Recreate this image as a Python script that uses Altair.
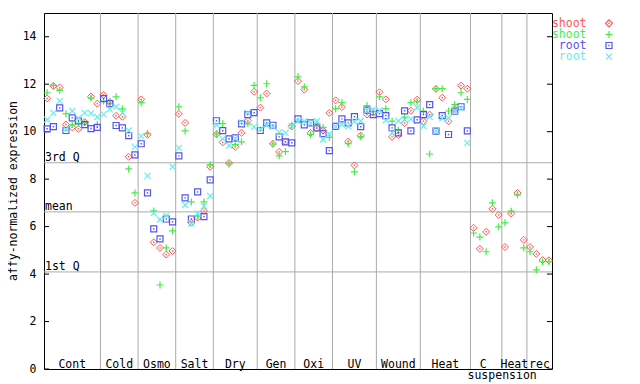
import altair as alt
import pandas as pd

FONT = "DejaVu Sans Mono"
FS = 11.5

groups = ["Cont", "Cold", "Osmo", "Salt", "Dry", "Gen", "Oxi", "UV", "Wound",
          "Heat", "C suspension", "Heat", "rec"]
group_sizes = [9, 6, 6, 6, 7, 6, 6, 7, 7, 8, 5, 4, 4]

shoot_red = [11.40, 11.93, 11.86, 10.30, 10.18, 10.12, 10.40, 11.48, 11.18,
             11.55, 11.25, 10.67, 10.63, 8.94, 7.00,
             11.36, 9.87, 5.34, 5.10, 4.82, 4.97,
             10.75, 10.37, 6.16, 6.38, 6.66, 8.52,
             9.89, 9.55, 8.68, 9.36, 9.95, 10.47, 11.68,
             11.01, 11.61, 9.49, 9.15, 9.58, 10.22,
             12.13, 11.77, 9.95, 10.14, 10.05, 10.79,
             11.32, 11.04, 9.58, 8.58, 9.83, 10.72, 10.80,
             11.66, 11.36, 9.78, 9.85, 10.36, 10.88, 11.35,
             10.44, 10.72, 11.80, 11.43, 10.44, 10.95, 11.94, 11.81,
             5.95, 5.06, 5.78, 6.75, 6.49,
             5.14, 6.55, 7.42, 5.44,
             5.14, 4.85, 4.59, 4.58]

shoot_green = [11.64, 11.95, 11.74, 10.76, 10.29, 10.35, 10.38, 11.41, 10.30,
               11.29, 11.20, 11.47, 10.96, 8.43, 7.42,
               11.22, 9.92, 6.66, 3.54, 5.10, 5.82,
               11.05, 10.03, 7.04, 6.44, 7.04, 8.61,
               9.91, 10.34, 8.64, 9.46, 9.57, 10.33, 11.95,
               11.43, 12.02, 9.48, 8.98, 9.16, 10.27,
               12.31, 11.89, 9.88, 10.35, 10.18, 9.76,
               10.97, 11.22, 9.50, 8.31, 9.79, 11.10, 10.85,
               11.47, 10.97, 10.44, 10.06, 10.61, 11.22, 11.27,
               10.87, 9.06, 11.81, 11.81, 10.87, 11.14, 11.64, 11.36,
               5.73, 5.56, 4.94, 7.00, 5.99,
               6.16, 6.65, 7.34, 5.10,
               4.94, 4.18, 4.52, 4.52]

root_blue = [10.12, 10.21, 11.00, 10.05, 10.58, 10.45, 10.30, 10.13, 10.18,
             11.39, 11.18, 10.26, 10.16, 9.83, 9.02,
             9.49, 7.42, 5.90, 5.48, 6.32, 6.20,
             8.98, 7.21, 6.32, 7.46, 6.42, 7.97,
             10.46, 10.04, 9.70, 9.74, 10.33, 10.72, 10.80,
             10.05, 10.37, 10.27, 9.78, 9.57, 9.53,
             10.54, 10.29, 10.37, 10.16, 9.92, 9.20,
             10.22, 10.54, 10.37, 10.63, 10.21, 10.91, 10.72,
             10.76, 10.68, 10.16, 9.95, 10.88, 10.03, 10.50,
             10.72, 11.14, 10.02, 10.68, 9.88, 10.86, 11.05, 10.03] + [None] * 13

root_cyan = [10.51, 10.79, 11.30, 10.10, 10.87, 10.58, 10.79, 10.77, 10.62,
             10.73, 10.94, 11.05, 10.79, 10.05, 9.36,
             9.81, 8.14, 6.57, 6.30, 6.46, 8.52,
             9.32, 6.91, 6.13, 6.55, 6.86, 7.29,
             10.28, 9.71, 9.41, 9.72, 10.39, 10.80, 10.20,
             10.10, 10.28, 10.20, 9.97, 9.95, 10.24,
             10.44, 10.44, 10.35, 10.44, 9.67, 9.90,
             10.22, 10.30, 10.23, 10.43, 10.45, 10.90, 10.92,
             10.88, 10.48, 9.95, 10.45, 10.50, 10.53, 11.02,
             10.23, 10.63, 10.02, 10.56, 10.58, 10.86, 10.99, 9.53] + [None] * 13

series_names = ["shoot", "shoot", "root", "root"]
series_colors = ["#ff5555", "#44ee44", "#5555ee", "#66eeee"]

quart_names = ["3rd Q", "mean", "1st Q"]
quart_values = [8.69, 6.62, 4.09]
y_ticks = [0, 2, 4, 6, 8, 10, 12, 14]
y_title = "affy-normalized expression"

W, H = 508, 356
n = sum(group_sizes)

x_scale = alt.Scale(domain=[-0.5, n - 0.5], nice=False, zero=False)
y_scale = alt.Scale(domain=[0, 15], nice=False)
y_axis = alt.Axis(values=y_ticks, ticks=False, tickSize=0, domain=False, grid=False,
                  labelFont=FONT, labelFontSize=FS, labelColor="black",
                  labelPadding=8, title=None)

# derived tables
starts = []
acc = 0
for s in group_sizes:
    starts.append(acc)
    acc += s
bounds = pd.DataFrame({"pos": [st - 0.5 for st in starts[1:]]})
line1 = [g.split(" ")[0] for g in groups]
line2 = [" ".join(g.split(" ")[1:]) for g in groups]
centers = [st + s / 2 - 0.5 for st, s in zip(starts, group_sizes)]
glab = pd.DataFrame({"c": centers, "l1": line1, "l2": line2})
glab_single = glab[glab["l2"] == ""]
glab_double = glab[glab["l2"] != ""]
quart = pd.DataFrame({"v": quart_values, "name": quart_names})
ticks = pd.DataFrame({"t": y_ticks})


def series_df(vals):
    rows = [{"idx": i, "value": v} for i, v in enumerate(vals) if v is not None]
    return pd.DataFrame(rows)


X = alt.X("idx:Q", scale=x_scale, axis=None)
Y = alt.Y("value:Q", scale=y_scale, axis=y_axis)

vgrid = alt.Chart(bounds).mark_rule(color="#aaaaaa", strokeWidth=1).encode(
    x=alt.X("pos:Q", scale=x_scale, axis=None))

qlines = alt.Chart(quart).mark_rule(color="#aaaaaa", strokeWidth=1).encode(
    y=alt.Y("v:Q", scale=y_scale, axis=y_axis))

qtext = alt.Chart(quart).mark_text(align="left", baseline="alphabetic", dy=-1.5,
                                   font=FONT, fontSize=FS, color="black").encode(
    x=alt.value(1), y=alt.Y("v:Q", scale=y_scale, axis=y_axis), text="name:N")

plus_path = "M-1,0L1,0M0,-1L0,1"
x_path = "M-1,-1L1,1M-1,1L1,-1"

red_df = series_df(shoot_red)
green_df = series_df(shoot_green)
blue_df = series_df(root_blue)
cyan_df = series_df(root_cyan)

red_pts = alt.Chart(red_df).mark_point(shape="diamond", filled=False, size=49,
                                        strokeWidth=1, color=series_colors[0],
                                        opacity=1).encode(x=X, y=Y)
red_dot = alt.Chart(red_df).mark_point(shape="square", filled=True, size=2,
                                        color=series_colors[0], opacity=1).encode(x=X, y=Y)
green_pts = alt.Chart(green_df).mark_point(shape=plus_path, filled=False, size=49,
                                            strokeWidth=1.2, color=series_colors[1],
                                            opacity=1).encode(x=X, y=Y)
blue_pts = alt.Chart(blue_df).mark_point(shape="square", filled=False, size=36,
                                          strokeWidth=1.2, color=series_colors[2],
                                          opacity=1).encode(x=X, y=Y)
blue_dot = alt.Chart(blue_df).mark_point(shape="square", filled=True, size=2,
                                          color=series_colors[2], opacity=1).encode(x=X, y=Y)
cyan_pts = alt.Chart(cyan_df).mark_point(shape=x_path, filled=False, size=36,
                                          strokeWidth=1.2, color=series_colors[3],
                                          opacity=1).encode(x=X, y=Y)

gtext1 = alt.Chart(glab_single).mark_text(baseline="alphabetic", font=FONT, fontSize=FS,
                                          color="black").encode(
    x=alt.X("c:Q", scale=x_scale, axis=None), y=alt.value(354.5), text="l1:N")
gtext1b = alt.Chart(glab_double).mark_text(baseline="alphabetic", font=FONT, fontSize=FS,
                                           color="black", dx=-3).encode(
    x=alt.X("c:Q", scale=x_scale, axis=None), y=alt.value(354.5), text="l1:N")
gtext2 = alt.Chart(glab_double).mark_text(baseline="alphabetic", font=FONT, fontSize=FS,
                                          color="black", dx=16).encode(
    x=alt.X("c:Q", scale=x_scale, axis=None), y=alt.value(365.5), text="l2:N")

ticks_left = alt.Chart(ticks).mark_rule(color="black").encode(
    y=alt.Y("t:Q", scale=y_scale, axis=y_axis), x=alt.value(0), x2=alt.value(5))
ticks_right = alt.Chart(ticks).mark_rule(color="black").encode(
    y=alt.Y("t:Q", scale=y_scale, axis=y_axis), x=alt.value(W - 5), x2=alt.value(W))

ytitle = alt.Chart(pd.DataFrame({"t": [y_title]})).mark_text(
    angle=270, align="center", baseline="middle", font=FONT, fontSize=FS,
    color="black").encode(text="t:N", x=alt.value(-30), y=alt.value(H / 2))

# legend (manual, text left of symbol)
legend_layers = []
shapes = [("diamond", 49, False), (plus_path, 49, False), ("square", 36, False), (x_path, 36, False)]
for k, (name, col) in enumerate(zip(series_names, series_colors)):
    one = pd.DataFrame({"t": [name]})
    legend_layers.append(
        alt.Chart(one).mark_text(align="right", baseline="alphabetic", font=FONT,
                                 fontSize=FS, color=col).encode(
            text="t:N", x=alt.value(542.5), y=alt.value(13.7 + 11.1 * k)))
    shp, sz, fl = shapes[k]
    legend_layers.append(
        alt.Chart(one).mark_point(shape=shp, size=sz, filled=fl, strokeWidth=1.2,
                                  color=col, opacity=1).encode(
            x=alt.value(565), y=alt.value(10.3 + 11.1 * k)))
    if k in (0, 2):
        legend_layers.append(
            alt.Chart(one).mark_point(shape="square", size=2, filled=True,
                                      color=col, opacity=1).encode(
                x=alt.value(565), y=alt.value(10.3 + 11.1 * k)))

chart = alt.layer(
    vgrid, qlines, qtext, ticks_left, ticks_right,
    red_pts, red_dot, green_pts, blue_pts, blue_dot, cyan_pts,
    gtext1, gtext1b, gtext2, ytitle, *legend_layers
).properties(
    width=W, height=H,
    padding={"left": 36, "top": 5, "right": 80, "bottom": 15},
    autosize=alt.AutoSizeParams(type="none"),
    background="white",
).configure_view(stroke="black", strokeWidth=1)

chart.save("out.html", embed_options={"renderer": "svg", "actions": False})
